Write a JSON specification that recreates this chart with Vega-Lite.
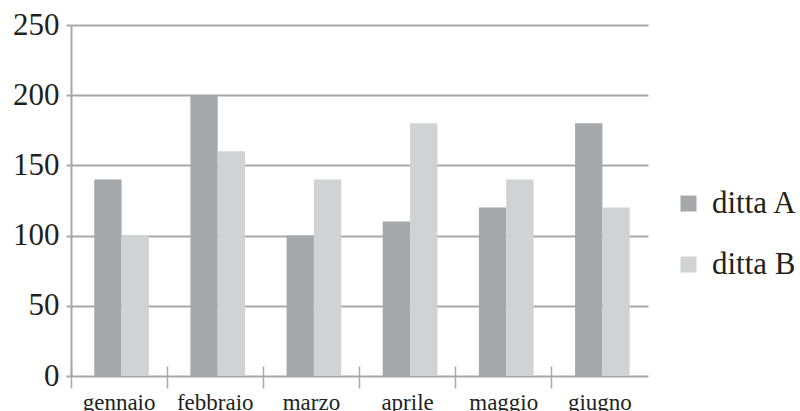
{
  "$schema": "https://vega.github.io/schema/vega-lite/v6.json",
  "width": 577,
  "height": 351,
  "autosize": "none",
  "padding": {"left": 71, "top": 25, "right": 152, "bottom": 35},
  "background": "white",
  "config": {"view": {"stroke": null}, "font": "Liberation Serif"},
  "data": {
    "values": [
      {"mese": "gennaio", "ditta": "ditta A", "valore": 140},
      {"mese": "gennaio", "ditta": "ditta B", "valore": 100},
      {"mese": "febbraio", "ditta": "ditta A", "valore": 200},
      {"mese": "febbraio", "ditta": "ditta B", "valore": 160},
      {"mese": "marzo", "ditta": "ditta A", "valore": 100},
      {"mese": "marzo", "ditta": "ditta B", "valore": 140},
      {"mese": "aprile", "ditta": "ditta A", "valore": 110},
      {"mese": "aprile", "ditta": "ditta B", "valore": 180},
      {"mese": "maggio", "ditta": "ditta A", "valore": 120},
      {"mese": "maggio", "ditta": "ditta B", "valore": 140},
      {"mese": "giugno", "ditta": "ditta A", "valore": 180},
      {"mese": "giugno", "ditta": "ditta B", "valore": 120}
    ]
  },
  "mark": {"type": "bar"},
  "encoding": {
    "x": {
      "field": "mese",
      "type": "nominal",
      "sort": ["gennaio", "febbraio", "marzo", "aprile", "maggio", "giugno"],
      "scale": {"paddingInner": 0, "paddingOuter": 0},
      "axis": {
        "title": null,
        "labelAngle": 0,
        "domain": false,
        "bandPosition": 0,
        "tickSize": 22,
        "offset": -10,
        "tickColor": "#a7a8ab",
        "tickWidth": 1.5,
        "labelFontSize": 23,
        "labelColor": "#231f20",
        "labelPadding": 3,
        "labelFont": "Liberation Serif"
      }
    },
    "xOffset": {
      "field": "ditta",
      "type": "nominal",
      "scale": {"paddingInner": 0, "paddingOuter": 0.759, "align": 0.56}
    },
    "y": {
      "field": "valore",
      "type": "quantitative",
      "scale": {"domain": [0, 250]},
      "axis": {
        "title": null,
        "values": [0, 50, 100, 150, 200, 250],
        "grid": true,
        "gridColor": "#a7a8ab",
        "gridWidth": 2,
        "domainColor": "#a7a8ab",
        "domainWidth": 2,
        "tickColor": "#a7a8ab",
        "tickSize": 5,
        "tickWidth": 2,
        "labelFontSize": 31,
        "labelColor": "#231f20",
        "labelPadding": 7,
        "labelFont": "Liberation Serif"
      }
    },
    "color": {
      "field": "ditta",
      "type": "nominal",
      "scale": {"domain": ["ditta A", "ditta B"], "range": ["#a7a8ab", "#d1d2d4"]},
      "legend": {
        "title": null,
        "orient": "none",
        "legendX": 602,
        "legendY": 163,
        "symbolType": "square",
        "symbolSize": 256,
        "symbolStrokeWidth": 0,
        "labelFontSize": 31,
        "labelColor": "#231f20",
        "labelFont": "Liberation Serif",
        "labelOffset": 8,
        "rowPadding": 29
      }
    }
  }
}
